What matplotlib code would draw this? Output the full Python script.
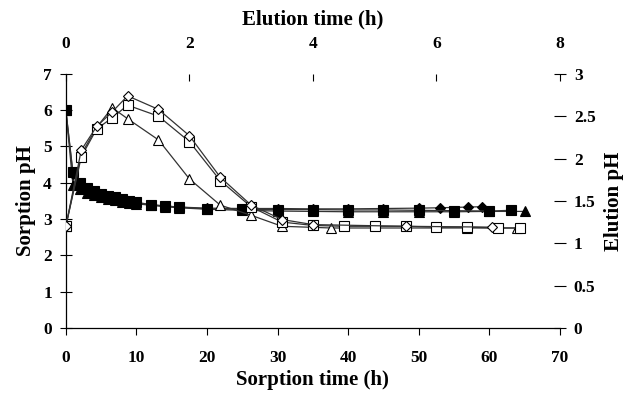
import numpy as np
import matplotlib
matplotlib.use("Agg")
import matplotlib.pyplot as plt

plt.rcParams['font.family'] = 'Liberation Serif'
plt.rcParams['font.weight'] = 'bold'

# Sorption (bottom x, left y) - filled markers
sorp_sq_t = [0, 1, 2, 3, 4, 5, 6, 7, 8, 9, 10, 12, 14, 16, 20, 25, 30, 35, 40, 45, 50, 55, 60, 63]
sorp_sq_ph = [6.0, 4.3, 4.0, 3.85, 3.76, 3.7, 3.64, 3.6, 3.55, 3.5, 3.46, 3.4, 3.36, 3.33, 3.28, 3.27,
              3.26, 3.26, 3.25, 3.25, 3.24, 3.23, 3.22, 3.24]
sorp_di_t = [0, 1, 2, 3, 4, 5, 6, 7, 8, 9, 10, 12, 14, 16, 20, 25, 30, 35, 40, 45, 50, 53, 57, 59]
sorp_di_ph = [6.0, 4.25, 3.98, 3.82, 3.74, 3.68, 3.62, 3.57, 3.53, 3.49, 3.45, 3.39, 3.36, 3.33, 3.3, 3.29,
              3.29, 3.28, 3.28, 3.29, 3.3, 3.31, 3.33, 3.34]
sorp_tr_t = [0, 1, 2, 3, 4, 5, 6, 7, 8, 9, 10, 12, 14, 16, 20, 25, 30, 35, 40, 45, 50, 55, 60, 65]
sorp_tr_ph = [6.0, 3.95, 3.82, 3.72, 3.66, 3.6, 3.56, 3.52, 3.48, 3.45, 3.42, 3.38, 3.34, 3.31, 3.27, 3.24,
              3.22, 3.21, 3.2, 3.2, 3.2, 3.2, 3.21, 3.21]

# Elution (top x, right y) - open markers
elu_sq_t = [0, 0.25, 0.5, 0.75, 1.0, 1.5, 2.0, 2.5, 3.0, 3.5, 4.0, 4.5, 5.0, 5.5, 6.0, 6.5, 7.0, 7.35]
elu_sq_ph = [1.2, 2.02, 2.35, 2.48, 2.63, 2.5, 2.2, 1.74, 1.43, 1.25, 1.21, 1.2, 1.2, 1.2, 1.19, 1.19, 1.18, 1.18]
elu_di_t = [0, 0.25, 0.5, 0.75, 1.0, 1.5, 2.0, 2.5, 3.0, 3.5, 4.0, 5.5, 6.9]
elu_di_ph = [1.2, 2.1, 2.38, 2.55, 2.74, 2.58, 2.27, 1.78, 1.45, 1.28, 1.22, 1.2, 1.19]
elu_tr_t = [0, 0.25, 0.5, 0.75, 1.0, 1.5, 2.0, 2.5, 3.0, 3.5, 4.3, 6.5, 7.3]
elu_tr_ph = [1.2, 2.05, 2.37, 2.6, 2.47, 2.22, 1.76, 1.45, 1.33, 1.2, 1.18, 1.18, 1.18]

fig = plt.figure(figsize=(6.27, 3.97), dpi=100)
pos = [0.105, 0.174, 0.788, 0.640]
ax = fig.add_axes(pos)
ax2 = fig.add_axes(pos, frameon=False)

lc = '#333333'
kw = dict(color=lc, lw=0.9, ms=6.5, mec='black', mew=0.8)
ax.plot(sorp_tr_t, sorp_tr_ph, marker='^', mfc='black', **kw)
ax.plot(sorp_di_t, sorp_di_ph, marker='D', mfc='black', **dict(kw, ms=5.5))
ax.plot(sorp_sq_t, sorp_sq_ph, marker='s', mfc='black', **kw)

ax2.plot(elu_tr_t, elu_tr_ph, marker='^', mfc='white', **kw)
ax2.plot(elu_sq_t, elu_sq_ph, marker='s', mfc='white', **kw)
ax2.plot(elu_di_t, elu_di_ph, marker='D', mfc='white', **dict(kw, ms=5.5))

ax.set_xlim(0, 70)
ax.set_ylim(0, 7)
ax.set_xticks(np.arange(0, 71, 10))
ax.set_yticks(np.arange(0, 8, 1))
ax2.set_xlim(0, 8)
ax2.set_ylim(0, 3)
ax2.set_xticks(np.arange(0, 9, 2))
ax2.set_yticks([0, 0.5, 1, 1.5, 2, 2.5, 3])
ax2.set_yticklabels(['0', '0.5', '1', '1.5', '2', '2.5', '3'])

ax2.xaxis.tick_top()
ax2.xaxis.set_label_position('top')
ax2.yaxis.tick_right()
ax2.yaxis.set_label_position('right')

for s in ['top', 'right']:
    ax.spines[s].set_visible(False)
ax.spines['left'].set_linewidth(0.9)
ax.spines['bottom'].set_linewidth(0.9)
for s in ['left', 'bottom']:
    ax2.spines[s].set_visible(False)
ax2.spines['top'].set_linewidth(0.9)
ax2.spines['right'].set_linewidth(0.9)

ax.tick_params(axis='x', direction='out', length=5, labelsize=12.5, pad=11)
ax.tick_params(axis='y', direction='inout', length=8, labelsize=12.5, pad=6)
ax2.tick_params(axis='x', direction='in', length=5, labelsize=12.5, pad=16)
ax2.tick_params(axis='y', direction='inout', length=8, labelsize=12.5, pad=6)

ax.set_xlabel('Sorption time (h)', fontsize=15, fontweight='bold', labelpad=3)
ax.set_ylabel('Sorption pH', fontsize=15, fontweight='bold', labelpad=5)
ax2.set_xlabel('Elution time (h)', fontsize=15, fontweight='bold', labelpad=8)
ax2.set_ylabel('Elution pH', fontsize=15, fontweight='bold', labelpad=6)

fig.savefig('out.png', dpi=100)
